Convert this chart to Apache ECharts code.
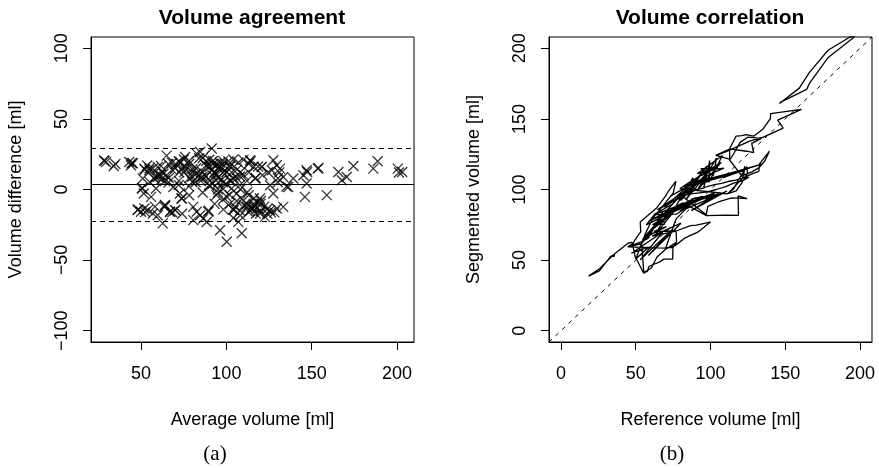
<!DOCTYPE html>
<html>
<head>
<meta charset="utf-8">
<script src="https://cdn.jsdelivr.net/npm/echarts@6/dist/echarts.min.js"></script>
<style>
  html, body { margin: 0; padding: 0; background: #fff; }
  #main { width: 879px; height: 468px; }
</style>
</head>
<body>
<div id="main"></div>
<script>
// each patient: [average volume, volume difference] per frame
const patient01 = [[44.6, 18.8], [35.0, 18.0], [28.6, 20.2], [28.3, 20.6], [29.5, 19.5], [34.0, 16.7], [43.1, 19.5], [44.1, 17.2], [45.2, 18.6], [53.6, 17.0], [55.0, 15.0]]
const patient02 = [[153.5, 14.8], [165.6, 12.4], [174.4, 16.7], [188.6, 20.0], [200.4, 14.8], [203.0, 12.4], [201.1, 12.0], [186.1, 14.8], [170.5, 8.9], [167.6, 6.6], [153.9, 15.2]]
const patient03 = [[113.9, 20.7], [120.7, 16.0], [127.5, 20.7], [129.5, 17.2], [131.4, 14.8], [133.3, 8.9], [139.2, 7.8], [145.1, 10.1], [147.0, 13.6], [147.3, 12.4], [158.8, -4.0], [147.0, 4.2], [146.0, -5.2], [136.2, 1.8], [130.2, 8.0], [124.4, 12.2], [118.6, 16.3], [114.2, 20.0]]
const patient04 = [[48.0, -14.6], [50.0, -15.8], [52.0, -13.4], [54.0, -14.6], [56.9, -17.0], [59.8, -18.2], [62.7, -24.0], [67.0, -15.8], [70.0, -14.6], [63.7, -12.3], [58.2, -12.1], [52.4, -16.0], [48.3, -14.2]]
const patient05 = [[50.4, 0.7], [58.8, 0.7], [51.0, 7.8], [69.0, 1.8], [51.6, -2.8], [72.8, -2.8], [55.9, -5.2], [78.2, -4.1], [64.0, 6.0], [73.8, -6.4], [66.3, 8.1], [72.1, 3.2], [60.2, 10.3], [55.1, 5.2], [50.8, 1.1]]
const patient06 = [[52.0, 14.8], [54.9, 13.6], [56.9, 14.8], [59.8, 16.0], [61.7, 16.7], [65.0, 24.0], [75.8, 23.0], [82.6, 25.4], [84.6, 26.6], [91.4, 29.0], [86.2, 22.3], [78.1, 20.2], [70.3, 18.1], [62.7, 12.4], [57.8, 7.8], [52.3, 14.2]]
const patient07 = [[57.8, 7.8], [65.4, 9.1], [59.8, 8.9], [72.3, 12.1], [61.2, 10.5], [80.1, 14.3], [66.1, 5.0], [84.2, 10.1], [63.1, 11.2], [78.3, 8.2], [68.2, 14.0], [72.2, 6.1], [76.0, 16.2], [62.0, 7.2], [58.3, 9.1]]
const patient08 = [[64.0, -11.0], [67.0, -15.8], [70.0, -14.6], [73.8, -6.4], [80.6, -12.3], [82.6, -15.8], [84.6, -18.2], [86.5, -20.5], [88.5, -23.0], [80.6, -21.7], [74.1, -17.2], [68.3, -16.1], [64.2, -11.5]]
const patient09 = [[72.2, 20.1], [82.2, 15.1], [76.2, 14.2], [90.2, 16.1], [75.1, 21.2], [94.2, 10.1], [98.2, 20.1], [86.1, 12.2], [106.2, 14.1], [88.1, 9.2], [102.1, 17.2], [78.3, 18.2], [100.1, 12.2], [94.1, 18.3], [82.3, 11.1], [72.5, 19.6]]
const patient10 = [[88.1, 17.2], [91.3, 13.8], [93.9, 11.4], [97.2, 6.8], [99.8, 4.3], [103.1, 0.8], [105.9, -3.1], [109.2, -6.7], [111.8, -10.2], [115.1, -13.6], [117.2, -17.1], [113.8, -15.2], [110.3, -11.1], [106.1, -8.2], [101.9, -3.8], [98.1, 0.3], [95.2, 4.9], [91.8, 10.2], [88.5, 16.4]]
const patient11 = [[92.1, 20.2], [104.1, 8.2], [96.0, 16.1], [112.2, -2.0], [100.2, 12.3], [120.0, -10.1], [107.9, 3.1], [126.1, -16.2], [116.1, -6.2], [122.2, -12.1], [108.2, 0.2], [123.9, -13.8], [113.1, -4.1], [118.0, -9.2], [98.1, 12.2], [102.9, 6.1], [94.2, 17.1]]
const patient12 = [[89.4, -15.8], [96.3, -28.8], [100.2, -37.0], [107.0, -22.9], [109.0, -31.0], [104.1, -20.2], [98.2, -14.1], [93.1, -10.2], [89.6, -15.1]]
const patient13 = [[114.9, -13.4], [119.7, -17.0], [122.6, -19.4], [125.6, -14.6], [129.5, -13.4], [133.3, -12.3], [128.1, -16.2], [124.0, -17.1], [120.1, -15.2], [116.2, -12.1], [119.7, -6.4], [115.2, -12.8]]
const patient14 = [[95.1, 15.2], [107.0, 19.1], [98.0, 5.1], [110.0, 21.0], [102.1, 6.2], [116.0, 16.1], [101.2, 20.0], [110.1, 10.2], [104.1, 21.2], [106.0, 8.1], [113.1, 18.2], [95.0, 8.2], [113.2, 12.1], [98.0, 18.1], [93.1, 12.2]]
const patient15 = [[78.1, 2.2], [90.0, 3.2], [82.0, 5.1], [98.0, -7.1], [86.1, -2.1], [105.0, -12.1], [94.1, -4.0], [100.2, -5.1], [85.1, 8.2], [102.1, -10.2], [90.2, 6.1], [95.1, 0.2], [80.0, 5.2]]
const patient16 = [[116.8, 7.8], [120.7, 16.0], [125.6, 3.0], [127.5, -2.8], [130.1, 5.1], [135.2, 2.1], [131.0, 12.1], [126.6, 13.6], [121.1, 10.2], [117.2, 8.1]]
const patient17 = [[104.1, -14.2], [108.0, -15.1], [112.1, -12.2], [116.0, -10.1], [120.2, -8.1], [118.1, -13.2], [113.0, -16.1], [108.1, -18.2], [104.3, -14.6]]
const patient18 = [[66.0, 18.0], [80.1, 9.2], [70.1, 15.2], [90.2, 2.2], [74.0, 15.1], [95.1, -2.1], [75.2, 12.1], [92.0, 4.2], [68.1, 18.9], [85.0, 6.1], [80.2, 12.2], [86.1, 9.1]]
const patient19 = [[84.0, 22.1], [88.1, 20.2], [92.2, 18.1], [97.0, 15.2], [103.1, 12.1], [108.0, 9.2], [112.1, 6.1], [108.2, 12.2], [102.0, 16.1], [96.1, 19.0], [90.0, 21.1]]

// order in which the frames were traced in panel (b); the big heart is a separate trace
const traces = [
  [patient01, patient05, patient04, patient07, patient06, patient08, patient15, patient09, patient18, patient12,
    patient10, patient14, patient11, patient19, patient17, patient13, patient16, patient03],
  [patient02],
]

// bias and limits of agreement
const meanDiff = 3.5
const upperLimit = 29.2
const lowerLimit = -22.2

const agreementXTicks = [50, 100, 150, 200]
const agreementYTicks = [-100, -50, 0, 50, 100]
const correlationTicks = [0, 50, 100, 150, 200]
const agreementXRange = [20.7, 209.9]
const agreementYRange = [-108, 108]
const correlationRange = [-8, 208]

const FONT = '"Liberation Sans", Arial, Helvetica, sans-serif'
const xPath = 'path://M0,0L10,10M10,0L0,10'

function fmt(v) {
  return v < 0 ? '\u2212' + Math.abs(v) : String(v)
}

function axis(gridIndex, range, ticks, name, vertical) {
  return {
    type: 'value',
    gridIndex,
    position: vertical ? 'left' : 'bottom',
    min: range[0],
    max: range[1],
    name,
    nameLocation: 'middle',
    nameGap: vertical ? 66 : 69,
    nameTextStyle: { fontFamily: FONT, fontSize: 18, color: '#000' },
    axisLine: { show: true, onZero: false, lineStyle: { color: '#000', width: 1 } },
    axisTick: { show: true, inside: false, length: 8, customValues: ticks, lineStyle: { color: '#000', width: 1 } },
    axisLabel: {
      customValues: ticks,
      formatter: fmt,
      rotate: vertical ? 90 : 0,
      margin: vertical ? 20 : 23,
      fontFamily: FONT,
      fontSize: 18,
      color: '#000',
    },
    splitLine: { show: false },
  }
}

const chart = echarts.init(document.getElementById('main'))

const lineSeries = traces.map((group) => ({
  type: 'line',
  xAxisIndex: 1,
  yAxisIndex: 1,
  symbol: 'none',
  data: group.flat().map(([a, d]) => [a - d / 2, a + d / 2]),
  lineStyle: { color: '#000', width: 1.3 },
  silent: true,
}))

const options = {
  animation: false,
  textStyle: { fontFamily: FONT },
  grid: [
    { left: 91, top: 37, width: 323, height: 305, show: true, borderColor: '#000', borderWidth: 1, backgroundColor: 'transparent' },
    { left: 549, top: 37, width: 323, height: 305, show: true, borderColor: '#000', borderWidth: 1, backgroundColor: 'transparent' },
  ],
  xAxis: [
    axis(0, agreementXRange, agreementXTicks, 'Average volume [ml]', false),
    axis(1, correlationRange, correlationTicks, 'Reference volume [ml]', false),
  ],
  yAxis: [
    axis(0, agreementYRange, agreementYTicks, 'Volume difference [ml]', true),
    axis(1, correlationRange, correlationTicks, 'Segmented volume [ml]', true),
  ],
  graphic: [
    { type: 'text', x: 252, y: 18, style: { text: 'Volume agreement', font: 'bold 21px ' + FONT, fill: '#000', align: 'center', verticalAlign: 'middle' } },
    { type: 'text', x: 710, y: 18, style: { text: 'Volume correlation', font: 'bold 21px ' + FONT, fill: '#000', align: 'center', verticalAlign: 'middle' } },
    { type: 'text', x: 215, y: 454, style: { text: '(a)', font: '21px "Liberation Serif", "DejaVu Serif", serif', fill: '#000', align: 'center', verticalAlign: 'middle' } },
    { type: 'text', x: 672, y: 454, style: { text: '(b)', font: '21px "Liberation Serif", "DejaVu Serif", serif', fill: '#000', align: 'center', verticalAlign: 'middle' } },
  ],
  series: [
    {
      type: 'scatter',
      xAxisIndex: 0,
      yAxisIndex: 0,
      symbol: xPath,
      symbolSize: 10,
      data: traces.flat(2),
      itemStyle: { color: 'rgba(0,0,0,0)', borderColor: '#000', borderWidth: 1.3 },
      silent: true,
      markLine: {
        silent: true,
        symbol: ['none', 'none'],
        label: { show: false },
        lineStyle: { color: '#000', width: 1 },
        data: [
          { yAxis: meanDiff, lineStyle: { type: 'solid' } },
          { yAxis: upperLimit, lineStyle: { type: [5, 4] } },
          { yAxis: lowerLimit, lineStyle: { type: [5, 4] } },
        ],
      },
    },
    {
      type: 'line',
      xAxisIndex: 1,
      yAxisIndex: 1,
      symbol: 'none',
      data: [[correlationRange[0], correlationRange[0]], [correlationRange[1], correlationRange[1]]],
      lineStyle: { color: '#000', width: 1, type: [4, 5] },
      silent: true,
    },
    ...lineSeries,
  ],
}

chart.setOption(options)
window.addEventListener('resize', () => chart.resize())
</script>
</body>
</html>
